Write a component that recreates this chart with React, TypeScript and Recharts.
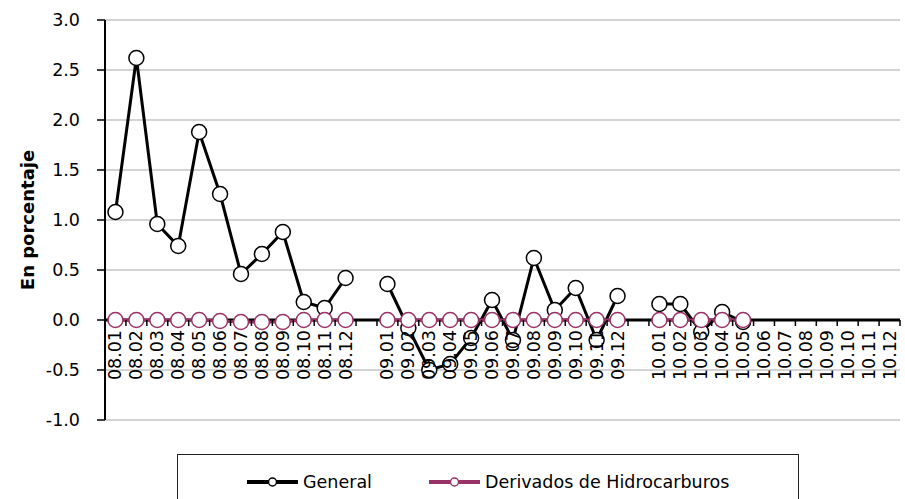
import { LineChart, Line, XAxis, YAxis, CartesianGrid, ReferenceLine, Legend } from 'recharts';

const categories = [
  '08.01', '08.02', '08.03', '08.04', '08.05', '08.06', '08.07', '08.08', '08.09', '08.10', '08.11', '08.12',
  '',
  '09.01', '09.02', '09.03', '09.04', '09.05', '09.06', '09.07', '09.08', '09.09', '09.10', '09.11', '09.12',
  '',
  '10.01', '10.02', '10.03', '10.04', '10.05', '10.06', '10.07', '10.08', '10.09', '10.10', '10.11', '10.12',
];

const general = [
  1.08, 2.62, 0.96, 0.74, 1.88, 1.26, 0.46, 0.66, 0.88, 0.18, 0.12, 0.42,
  null,
  0.36, -0.08, -0.5, -0.44, -0.18, 0.2, -0.2, 0.62, 0.1, 0.32, -0.2, 0.24,
  null,
  0.16, 0.16, -0.12, 0.08, -0.02, null, null, null, null, null, null, null,
];

const derivados = [
  0, 0, 0, 0, 0, -0.01, -0.02, -0.02, -0.02, 0, 0, 0,
  null,
  0, 0, 0, 0, 0, 0, 0, 0, 0, 0, 0, 0,
  null,
  0, 0, 0, 0, 0, null, null, null, null, null, null, null,
];

const yTicks = [-1, -0.5, 0, 0.5, 1, 1.5, 2, 2.5, 3];

const series = [
  { key: 'general', name: 'General', color: '#000000' },
  { key: 'derivados', name: 'Derivados de Hidrocarburos', color: '#993366' },
];

const FONT = '"DejaVu Sans", sans-serif';
const W = 905;
const H = 499;
const X_AXIS_H = 1;
const M = { top: 20, right: 5, bottom: 79 - X_AXIS_H, left: 0 };
const Y_AXIS_W = 105;
const Y_MIN = -1;
const Y_MAX = 3;
const PLOT_W = W - M.right - M.left - Y_AXIS_W;
const PLOT_H = H - M.top - M.bottom - X_AXIS_H;
// pixel row of value 0, from the y domain
const zeroY = M.top + (Y_MAX / (Y_MAX - Y_MIN)) * PLOT_H;
const band = PLOT_W / categories.length;

// idx keeps every slot unique (the two gap slots share an empty label)
const data = categories.map((c, i) => ({ idx: i, label: c, general: general[i], derivados: derivados[i] }));
const xTicks = data.map((d) => d.idx);

const renderCategoryTick = (props: any) => {
  const { x, payload, index } = props;
  const text = categories[payload.value];
  return (
    <g key={`xt-${index}`}>
      <line x1={x + band / 2} x2={x + band / 2} y1={zeroY} y2={zeroY + 6} stroke="#000" strokeWidth={1.5} />
      {text ? (
        <text
          transform={`translate(${x},${zeroY + 10}) rotate(-90)`}
          textAnchor="end"
          dominantBaseline="central"
          fontSize={17.5}
          fontFamily={FONT}
          fill="#000"
        >
          {text}
        </text>
      ) : null}
    </g>
  );
};

function YLabel({ viewBox }: any) {
  const cy = viewBox.y + viewBox.height / 2;
  return (
    <text
      transform={`translate(27,${cy}) rotate(-90)`}
      textAnchor="middle"
      dominantBaseline="central"
      fontSize={18}
      fontWeight="bold"
      fontFamily={FONT}
      fill="#000"
    >
      En porcentaje
    </text>
  );
}

function LegendBox() {
  return (
    <div
      style={{
        boxSizing: 'border-box', width: 622, height: 60, border: '1.5px solid #222',
        display: 'flex', alignItems: 'flex-start', paddingLeft: 69, paddingTop: 17,
        fontFamily: FONT, fontSize: 17.5, color: '#000', background: '#fff',
      }}
    >
      {series.map((s, i) => (
        <div key={s.key} style={{ display: 'flex', alignItems: 'center', marginLeft: i ? 57 : 0 }}>
          <svg width={51} height={12}>
            <line x1={0} x2={51} y1={6} y2={6} stroke={s.color} strokeWidth={4} />
            <circle cx={25.5} cy={6} r={4} fill="#fff" stroke={s.color} strokeWidth={1.5} />
          </svg>
          <span style={{ marginLeft: 5, lineHeight: '20px' }}>{s.name}</span>
        </div>
      ))}
    </div>
  );
}

export default function App() {
  return (
    <div style={{ position: 'absolute', left: 0, top: 0, width: W, height: H, overflow: 'hidden', background: '#fff' }}>
      <LineChart width={W} height={H} data={data} margin={M}>
        <CartesianGrid vertical={false} stroke="#c4c4c4" strokeWidth={1.5} />
        <YAxis
          type="number"
          domain={[Y_MIN, Y_MAX]}
          ticks={yTicks}
          interval={0}
          width={Y_AXIS_W}
          tickFormatter={(v: number) => v.toFixed(1)}
          tick={{ fill: '#000', fontSize: 17.5, fontFamily: FONT }}
          axisLine={{ stroke: '#000', strokeWidth: 2 }}
          tickLine={{ stroke: '#000', strokeWidth: 1.5 }}
          tickSize={8}
          tickMargin={17}
          label={<YLabel />}
        />
        <XAxis
          dataKey="idx"
          type="category"
          ticks={xTicks}
          height={X_AXIS_H}
          interval={0}
          minTickGap={0}
          padding={{ left: band / 2, right: band / 2 }}
          axisLine={false}
          tickLine={false}
          tick={renderCategoryTick}
        />
        <ReferenceLine y={0} stroke="#000" strokeWidth={3} zIndex={-50} />
        <Legend
          verticalAlign="middle"
          align="center"
          content={<LegendBox />}
          wrapperStyle={{ left: 177, top: 454, width: 622, height: 60 }}
        />
        {series.map((s) => (
          <Line
            key={s.key}
            dataKey={s.key}
            name={s.name}
            stroke={s.color}
            strokeWidth={3}
            dot={{ r: 7.5, fill: '#fff', stroke: s.color, strokeWidth: 1.5 }}
            activeDot={false}
            isAnimationActive={false}
          />
        ))}
      </LineChart>
    </div>
  );
}
